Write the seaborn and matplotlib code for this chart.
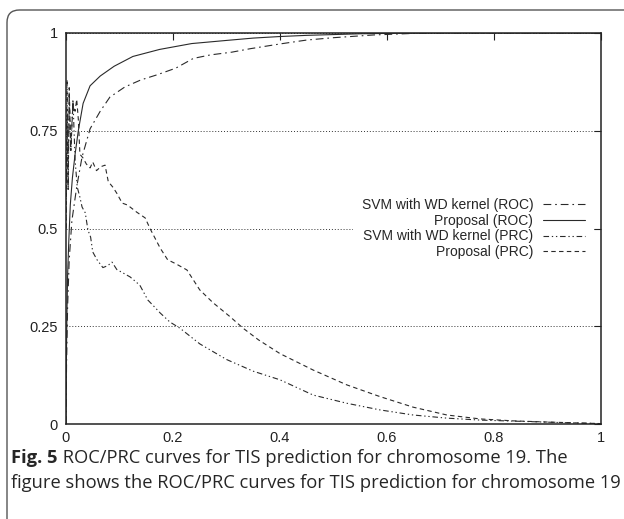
import numpy as np
import pandas as pd
import seaborn as sns
import matplotlib as mpl
import matplotlib.pyplot as plt
from matplotlib.patches import FancyBboxPatch

sns.set_style('white')
mpl.rcParams['font.family'] = ['Liberation Sans', 'DejaVu Sans']

# ---- data ----
roc_svm_x = [0, 0.001, 0.003, 0.006, 0.011, 0.02, 0.03, 0.045, 0.064, 0.082, 0.11, 0.14,
             0.17, 0.205, 0.238, 0.27, 0.31, 0.345, 0.4, 0.45, 0.5, 0.575, 0.65, 0.7,
             0.8, 0.9, 1.0]
roc_svm_y = [0, 0.15, 0.3, 0.42, 0.52, 0.606, 0.683, 0.755, 0.80, 0.836, 0.862, 0.88,
             0.893, 0.91, 0.935, 0.944, 0.951, 0.96, 0.972, 0.982, 0.988, 0.995, 0.999, 1,
             1, 1, 1]

roc_prop_x = [0, 0.001, 0.002, 0.003, 0.005, 0.008, 0.012, 0.017, 0.023, 0.032, 0.045,
              0.064, 0.09, 0.125, 0.175, 0.235, 0.3, 0.35, 0.4, 0.45, 0.5, 0.55, 0.6,
              0.7, 0.8, 0.9, 1.0]
roc_prop_y = [0, 0.2, 0.3, 0.38, 0.46, 0.56, 0.63, 0.69, 0.75, 0.82, 0.865, 0.89, 0.915,
              0.94, 0.958, 0.973, 0.981, 0.987, 0.991, 0.994, 0.996, 0.998, 0.999, 1, 1,
              1, 1]

prc_svm_x = [0.0, 0.002, 0.004, 0.006, 0.009, 0.013, 0.017, 0.021, 0.026, 0.03, 0.036,
             0.041, 0.046, 0.05, 0.058, 0.069, 0.078, 0.086, 0.095, 0.107, 0.12, 0.138,
             0.153, 0.165, 0.176, 0.194, 0.213, 0.25, 0.3, 0.35, 0.4, 0.462, 0.525,
             0.587, 0.649, 0.712, 0.774, 0.87, 0.94, 1.0]
prc_svm_y = [0.5, 0.88, 0.6, 0.84, 0.7, 0.83, 0.675, 0.606, 0.58, 0.555, 0.54, 0.496,
             0.478, 0.44, 0.42, 0.40, 0.405, 0.414, 0.395, 0.386, 0.376, 0.355, 0.317,
             0.3, 0.284, 0.261, 0.245, 0.205, 0.165, 0.135, 0.113, 0.074, 0.053, 0.036,
             0.023, 0.015, 0.01, 0.006, 0.003, 0.001]

prc_prop_x = [0.0, 0.002, 0.004, 0.006, 0.009, 0.013, 0.017, 0.02, 0.023, 0.026, 0.032,
              0.038, 0.045, 0.05, 0.057, 0.065, 0.073, 0.079, 0.088, 0.095, 0.105, 0.115,
              0.132, 0.148, 0.157, 0.176, 0.19, 0.205, 0.226, 0.25, 0.275, 0.307, 0.331,
              0.36, 0.4, 0.462, 0.525, 0.587, 0.649, 0.712, 0.774, 0.836, 0.9, 0.95, 1.0]
prc_prop_y = [0.5, 0.78, 0.6, 0.86, 0.7, 0.82, 0.8, 0.83, 0.78, 0.69, 0.68, 0.665, 0.655,
              0.67, 0.648, 0.658, 0.662, 0.62, 0.605, 0.59, 0.565, 0.56, 0.542, 0.527,
              0.5, 0.45, 0.42, 0.41, 0.394, 0.343, 0.31, 0.274, 0.245, 0.215, 0.18, 0.138,
              0.1, 0.07, 0.043, 0.023, 0.013, 0.008, 0.005, 0.003, 0.001]

labels = ['SVM with WD kernel (ROC)', 'Proposal (ROC)',
          'SVM with WD kernel (PRC)', 'Proposal (PRC)']
xticks = [0, 0.2, 0.4, 0.6, 0.8, 1]
xticklabels = ['0', '0.2', '0.4', '0.6', '0.8', '1']
yticks = [0, 0.25, 0.5, 0.75, 1]
yticklabels = ['0', '0.25', '0.5', '0.75', '1']
caption_bold = 'Fig. 5'
caption_1 = ' ROC/PRC curves for TIS prediction for chromosome 19. The'
caption_2 = 'figure shows the ROC/PRC curves for TIS prediction for chromosome 19'

series = [(roc_svm_x, roc_svm_y), (roc_prop_x, roc_prop_y),
          (prc_svm_x, prc_svm_y), (prc_prop_x, prc_prop_y)]
styles = [(0, (7, 3.5, 1.5, 3.5)), '-', (0, (5, 2.5, 1.2, 2.5, 1.2, 2.5)), (0, (4, 3))]

W, H = 624, 519
fig = plt.figure(figsize=(W / 100, H / 100), dpi=100)
ax = fig.add_axes([66 / W, 1 - 424 / H, 535 / W, 391 / H])

for (xs, ys), lab, ls in zip(series, labels, styles):
    df = pd.DataFrame({'x': xs, 'y': ys})
    sns.lineplot(data=df, x='x', y='y', ax=ax, estimator=None, sort=False,
                 color='#2a2a2a', linewidth=0.8, linestyle=ls, label=lab)

ax.set_xlim(0, 1)
ax.set_ylim(0, 1)
ax.set_xlabel('')
ax.set_ylabel('')
ax.set_xticks(xticks)
ax.set_xticklabels(xticklabels)
ax.set_yticks(yticks)
ax.set_yticklabels(yticklabels)
ax.tick_params(direction='in', length=5, width=0.8, top=True, right=True,
               labelsize=10.5, pad=6, colors='#222')
ax.tick_params(axis='x', pad=5)
for s in ax.spines.values():
    s.set_linewidth(1.1)
    s.set_color('#222')
ax.grid(axis='y', linestyle=(0, (1, 2)), color='#333', linewidth=0.7)
ax.grid(axis='x', visible=False)

leg = ax.legend(loc='center right', bbox_to_anchor=(0.985, 0.5), markerfirst=False,
                frameon=True, fontsize=10, handlelength=3.0, handletextpad=0.7,
                labelspacing=0.13, borderpad=0.6, borderaxespad=0, fancybox=False)
leg.get_frame().set_facecolor('white')
leg.get_frame().set_edgecolor('none')
leg.get_frame().set_alpha(1)
for t in leg.get_texts():
    t.set_ha('right')
leg._legend_box.align = 'right'

# caption
cap_font = ['Open Sans', 'DejaVu Sans']
fig.canvas.draw()
r = fig.canvas.get_renderer()
tb = fig.text(11 / W, 1 - 463 / H, caption_bold, fontsize=13.2, fontweight='bold',
              family=cap_font, va='baseline', ha='left')
bb = tb.get_window_extent(renderer=r)
fig.text(bb.x1 / W, 1 - 463 / H, caption_1, fontsize=13.2, family=cap_font,
         va='baseline', ha='left')
fig.text(11 / W, 1 - 488 / H, caption_2, fontsize=13.2, family=cap_font,
         va='baseline', ha='left')

# rounded frame around the figure panel
frame = FancyBboxPatch((7 / W, -0.2), 1.2, 1.2 - 10 / H,
                       boxstyle='round,pad=0,rounding_size=0.02',
                       transform=fig.transFigure, fill=False, edgecolor='#555',
                       linewidth=1.0, clip_on=False, mutation_aspect=W / H)
fig.patches.append(frame)

fig.savefig('out.png', dpi=100)
